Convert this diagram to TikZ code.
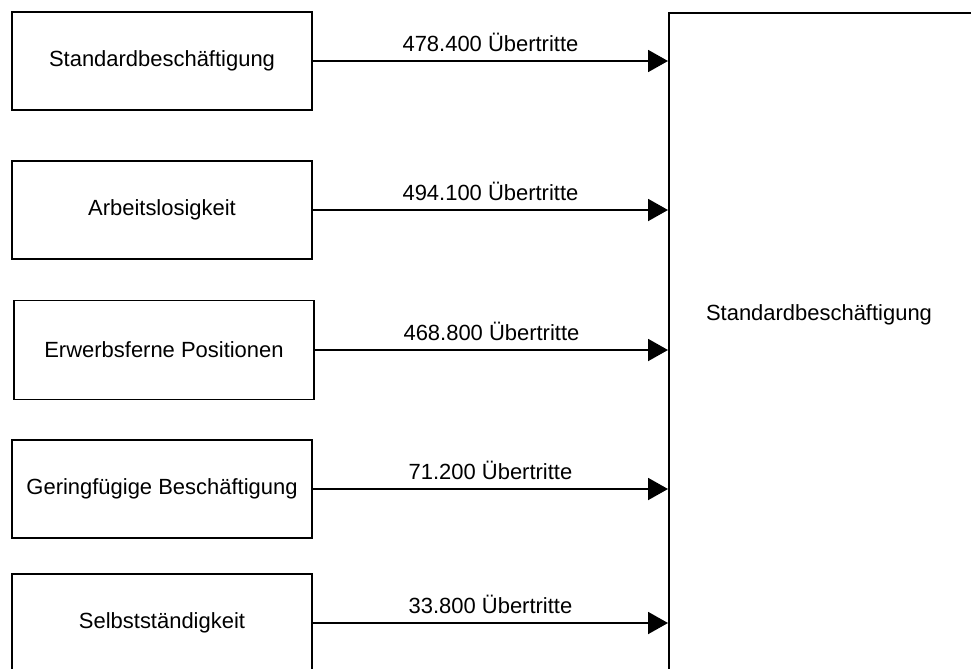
\documentclass[tikz,border=0pt]{standalone}
\usepackage{fontspec}
\setmainfont{Liberation Sans}
\usepackage{tikz}
\usetikzlibrary{arrows.meta}

\tikzset{
  kasten/.style={draw, line width=1.1pt, minimum width=6cm, minimum height=1.96cm, inner sep=0pt},
  pfeil/.style={line width=1.1pt, -{Triangle[length=0.4cm,width=0.44cm]}},
  zahl/.style={midway, above=3pt, inner sep=2pt}
}

\begin{document}
\begin{tikzpicture}[font=\fontsize{12.5pt}{15pt}\selectfont]
  \useasboundingbox (0,0) rectangle (19.42,-13.36);
  \clip (0,0) rectangle (19.42,-13.36);

      \draw (3.24,-1.22) node[kasten] (standard) {Standardbeschäftigung};
      \draw (3.24,-4.2) node[kasten] (arbeitslos) {Arbeitslosigkeit};
      \draw (3.28,-7.0) node[kasten, minimum height=1.98cm] (erwerbsfern) {Erwerbsferne Positionen};
      \draw (3.24,-9.78) node[kasten] (geringfuegig) {Geringfügige Beschäftigung};
      \draw (3.24,-12.46) node[kasten] (selbst) {Selbstständigkeit};

  \draw (13.36,-0.24) node[draw, line width=1.1pt, anchor=north west, minimum width=6.3cm, minimum height=13.6cm] (ziel) {};
  \draw (16.38,-6.3) node (zieltext) {Standardbeschäftigung};

      \path[pfeil] (standard) edge node[zahl] {478.400 Übertritte} (standard -| ziel.west);
      \path[pfeil] (arbeitslos) edge node[zahl] {494.100 Übertritte} (arbeitslos -| ziel.west);
      \path[pfeil] (erwerbsfern) edge node[zahl] {468.800 Übertritte} (erwerbsfern -| ziel.west);
      \path[pfeil] (geringfuegig) edge node[zahl] {71.200 Übertritte} (geringfuegig -| ziel.west);
      \path[pfeil] (selbst) edge node[zahl] {33.800 Übertritte} (selbst -| ziel.west);
\end{tikzpicture}
\end{document}
